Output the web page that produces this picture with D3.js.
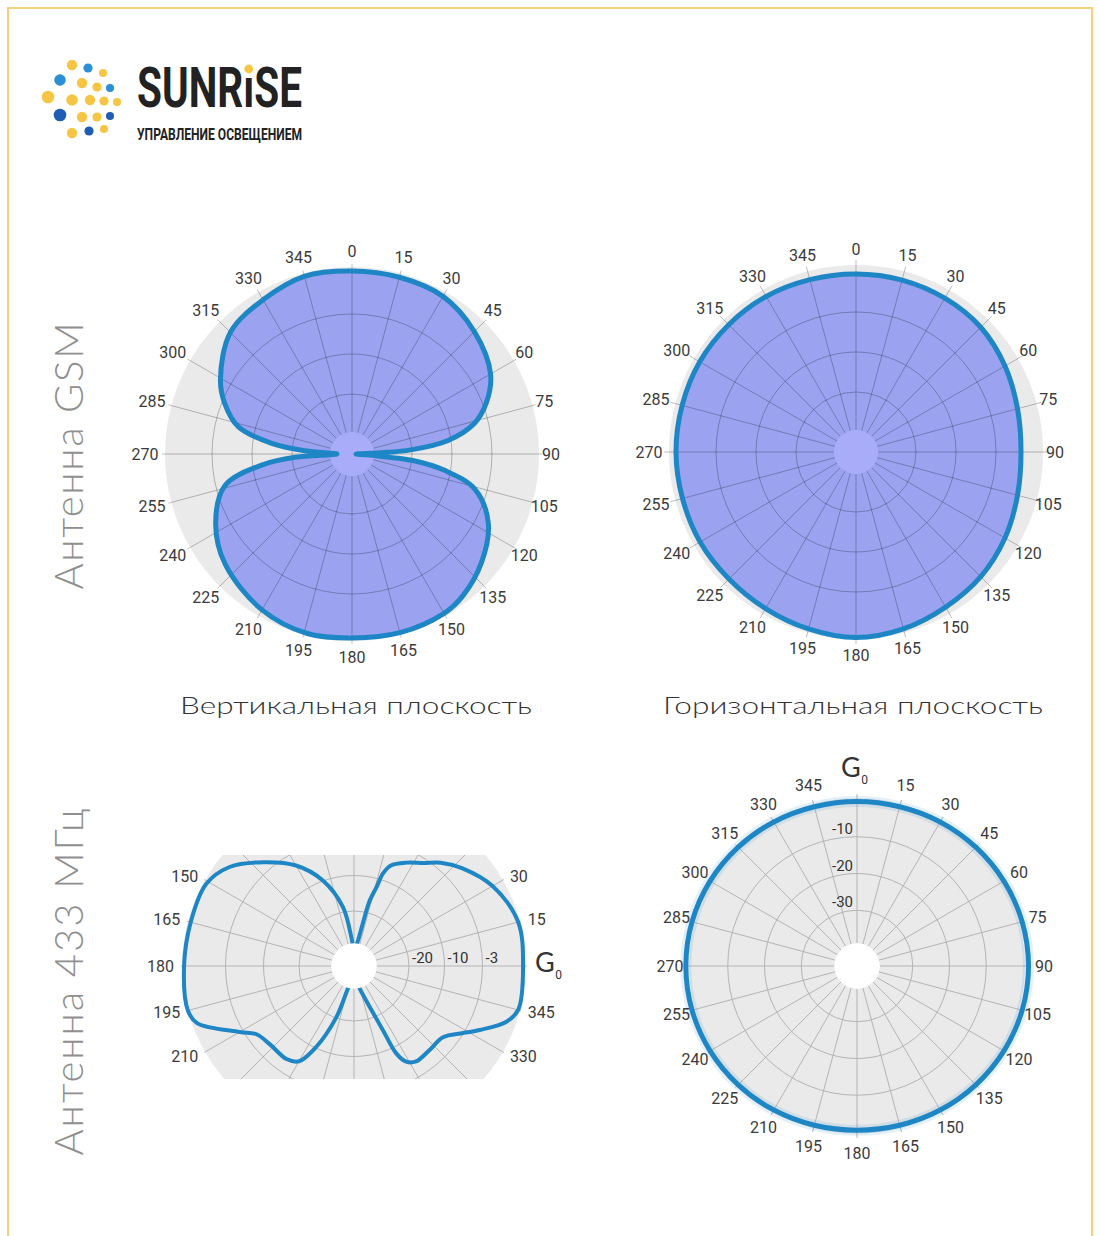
<!DOCTYPE html>
<html><head><meta charset="utf-8">
<script src="https://cdn.jsdelivr.net/npm/d3@7"></script>
<style>body{margin:0;background:#fff}svg{display:block}</style>
</head><body>
<script>
// ---------------- DATA ----------------
const angleTicks = d3.range(0, 360, 15);
// GSM antenna, vertical plane (angle clockwise from top, relative level dB)
const gsmVerticalAngles = [0,15,30,45,60,69,76,82,86,87.5,90,93,95,96,100,106,117,130,142,150,165,180,194,210,229,243,256,263,266.7,268.2,270,271.8,274,277.5,283.5,291.7,299.4,315,330,345];
const gsmVerticalDb = [0.75,0.75,0.5,-1.75,-5,-9,-13.5,-20.75,-30.25,-37.75,-44,-41.25,-36.75,-30,-21.5,-13,-6.75,-2.75,0,1,1.25,1,1.25,0,-3,-6.75,-12.25,-22.25,-30.75,-39.75,-41.25,-39.75,-33.25,-24.75,-15.75,-10.75,-7.25,-2,-0.5,1];
// GSM antenna, horizontal plane
const gsmHorizontalAngles = angleTicks;
const gsmHorizontalDb = [-0.5,-0.5,-0.6,-0.9,-2.0,-3.2,-3.75,-3.2,-2.0,-0.9,-0.2,0.8,1.4,0.8,0.2,-0.1,0,-0.1,0,0,0.1,0,-0.1,-0.4];
// 433 MHz antenna, vertical plane (angle counter-clockwise from right)
const ant433VerticalAngles = [0,15,30,42,50,56,63,70,72.6,74,76.6,78,81,85,90,95.3,100.6,110,120,131,141.5,151,165,180,195,200,210,215,223,234,240,245,251,255,260,270,280,284,291,294.3,295.8,298.6,303,312,321.3,328.4,333,339.8,345];
const ant433VerticalDb = [0.16,0.23,-0.55,-1.64,-2.5,-3.8,-5.3,-7.0,-8.8,-12.2,-16.8,-22.5,-28.9,-31,-32,-28,-18.6,-9.9,-5.3,-2.3,-0.62,0.16,0.16,0.23,0.39,0,-2.73,-4.75,-5.5,-5.5,-6.4,-10.4,-20.3,-29.8,-32,-32,-32,-29.8,-23.4,-15.5,-8.8,-6.6,-5.7,-5.86,-5.67,-3.09,-2.03,-0.39,0.23];
// 433 MHz antenna, horizontal plane (angle clockwise from top)
const ant433HorizontalAngles = angleTicks;
const ant433HorizontalDb = [-0.4,-0.3,0.1,0.55,1.0,1.35,1.5,1.35,1.0,0.55,0.1,-0.3,-0.5,-0.3,0.1,0.55,1.0,1.3,1.4,1.3,1.0,0.55,0.1,-0.3];
const gsmRings = [-30,-20,-10];
const hRings433 = [-30,-20,-10];
const hRingLabels433 = ["-30","-20","-10"];
const vRings433 = [-20,-10,-3];
const vRingLabels433 = ["-20","-10","-3"];
const vLabelAngles433 = [15,30,150,165,180,195,210,330,345];
const planeTitles = ["Вертикальная плоскость","Горизонтальная плоскость"];
const rowTitles = ["Антенна GSM","Антенна 433 МГц"];
const brandName = "SUNRıSE";
const brandSub = "УПРАВЛЕНИЕ ОСВЕЩЕНИЕМ";

// ---------------- DRAW ----------------
const W = 1099, H = 1236;
const svg = d3.select("body").append("svg").attr("width", W).attr("height", H);
const defs = svg.append("defs");
const BLUE = "#1f86c6";
const labelFont = "Roboto, 'Liberation Sans', sans-serif";

svg.append("rect").attr("x", 8).attr("y", 8).attr("width", 1084).attr("height", 1300)
  .attr("fill", "none").attr("stroke", "#f3d27a").attr("stroke-width", 2);

// logo
const logoDots = [[72,65,4.5,0],[88,68,4,1],[103,73,3.5,0],[60,80,5,1],[82,83,4.5,0],[97,87,4,0],[110,88,3.5,1],
  [48,97,5.5,0],[72,100,5,0],[90,100,4.5,0],[104,101,4,0],[117,102,3.5,0],[60,115,5.5,2],[82,117,4.5,0],[97,117,4,0],[110,116,3.5,2],
  [72,133,4.5,0],[89,131,4,2],[104,129,3.5,0]];
const dotColors = ["#f6c544","#2b8fd6","#1f5cb3"];
svg.append("g").selectAll("circle").data(logoDots).join("circle")
  .attr("cx", d => d[0]).attr("cy", d => d[1]).attr("r", d => d[2] * 1.15).attr("fill", d => dotColors[d[3]]);
const brand = svg.append("text").attr("x", 137).attr("y", 107).text(brandName)
  .attr("font-family", "Roboto, sans-serif").attr("font-weight", 700).attr("font-size", 55)
  .attr("fill", "#222").attr("textLength", 165).attr("lengthAdjust", "spacingAndGlyphs");
svg.append("text").attr("x", 137).attr("y", 140).text(brandSub)
  .attr("font-family", "Roboto, sans-serif").attr("font-weight", 700).attr("font-size", 17)
  .attr("fill", "#222").attr("textLength", 165).attr("lengthAdjust", "spacingAndGlyphs");
try {
  const ext = brand.node().getExtentOfChar(4);
  svg.append("circle").attr("cx", ext.x + ext.width / 2).attr("cy", 69).attr("r", 4.4).attr("fill", "#f6c544");
} catch (e) {
  svg.append("circle").attr("cx", 248).attr("cy", 69).attr("r", 4.4).attr("fill", "#f6c544");
}

// row titles
const rowY = [456, 982];
const rowLen = [267, 347];
rowTitles.forEach((t, i) => {
  svg.append("text").attr("transform", `translate(83,${rowY[i]}) rotate(-90)`)
    .attr("text-anchor", "middle").attr("font-family", "Lato, sans-serif").attr("font-weight", 300)
    .attr("font-size", 40).attr("fill", "#8f8f8f").attr("textLength", rowLen[i]).attr("lengthAdjust", "spacing").text(t);
});
// plane titles
const titleX = [356, 853], titleLen = [352, 380];
planeTitles.forEach((t, i) => {
  svg.append("text").attr("x", titleX[i]).attr("y", 714).attr("text-anchor", "middle")
    .attr("font-family", "Lato, sans-serif").attr("font-weight", 300).attr("font-size", 23)
    .attr("fill", "#333").attr("textLength", titleLen[i]).attr("lengthAdjust", "spacingAndGlyphs").text(t);
});

const rad = a => a * Math.PI / 180;
let clipId = 0;
function polar(o) {
  const g = svg.append("g").attr("transform", `translate(${o.cx},${o.cy})`);
  const r = o.scale;
  const toD3 = o.toD3 || (a => a);
  let body = g;
  if (o.clip) {
    const id = "clip" + (clipId++);
    defs.append("clipPath").attr("id", id).append("rect")
      .attr("x", -o.R - 20).attr("y", o.clip[0]).attr("width", 2 * o.R + 40).attr("height", o.clip[1] - o.clip[0]);
    body = g.append("g").attr("clip-path", `url(#${id})`);
  }
  body.append("circle").attr("r", o.R).attr("fill", "#eaeaea");
  const pts = o.angles.map((a, i) => ({ a: toD3(a), v: o.values[i] }));
  const line = d3.lineRadial().angle(d => rad(d.a)).radius(d => r(d.v))
    .curve(d3.curveCatmullRomClosed.alpha(0.5));
  if (o.fill) body.append("path").attr("d", line(pts)).attr("fill", o.fill);
  const grid = body.append("g").attr("fill", "none").attr("stroke", o.gridColor).attr("stroke-width", 1);
  grid.selectAll("circle").data(o.rings).join("circle").attr("r", d => r(d));
  grid.selectAll("line").data(angleTicks).join("line")
    .attr("x1", d => d3.pointRadial(rad(toD3(d)), o.hole)[0]).attr("y1", d => d3.pointRadial(rad(toD3(d)), o.hole)[1])
    .attr("x2", d => d3.pointRadial(rad(toD3(d)), o.spokeR)[0]).attr("y2", d => d3.pointRadial(rad(toD3(d)), o.spokeR)[1]);
  const holeFirst = o.holeUnder;
  if (holeFirst) body.append("circle").attr("r", o.hole).attr("fill", o.holeFill);
  if (o.halo) body.append("path").attr("d", line(pts)).attr("fill", "none").attr("stroke", "rgba(31,134,198,0.12)").attr("stroke-width", 11);
  body.append("path").attr("d", line(pts)).attr("fill", "none").attr("stroke", BLUE)
    .attr("stroke-width", o.sw).attr("stroke-linejoin", "round");
  if (!holeFirst) body.append("circle").attr("r", o.hole).attr("fill", o.holeFill);
  return g;
}
function gLabel(g, x, y) {
  const t = g.append("text").attr("x", x).attr("y", y)
    .attr("font-family", "Lato, sans-serif").attr("font-size", 27).attr("fill", "#333").text("G");
  const bb = t.node().getBBox();
  g.append("text").attr("x", bb.x + bb.width + 0.5).attr("y", y + 7).attr("font-family", labelFont)
    .attr("font-size", 12).attr("fill", "#333").text("0");
}

// top charts
const gsmScale = d3.scaleLinear().domain([-40, 0]).range([20, 180]);
function topLabels(g) {
  g.append("g").selectAll("text").data(angleTicks).join("text")
    .attr("x", d => d3.pointRadial(rad(d), 203)[0] - 4 * Math.abs(Math.sin(rad(d))))
    .attr("y", d => d3.pointRadial(rad(d), 203)[1])
    .attr("text-anchor", "middle").attr("dominant-baseline", "central")
    .attr("font-family", labelFont).attr("font-size", 16).attr("fill", "#3b3b3b").text(d => d);
}
const tl = polar({ cx: 352, cy: 454, R: 187, scale: gsmScale, angles: gsmVerticalAngles, values: gsmVerticalDb,
  rings: gsmRings, hole: 22, spokeR: 190, fill: "#9ba3f0", gridColor: "rgba(0,0,0,0.25)", holeFill: "#a9adf9",
  holeUnder: true, sw: 5 });
topLabels(tl);
const tr = polar({ cx: 856, cy: 452, R: 187, scale: gsmScale, angles: gsmHorizontalAngles, values: gsmHorizontalDb,
  rings: gsmRings, hole: 22, spokeR: 192, fill: "#9ba3f0", gridColor: "rgba(0,0,0,0.25)", holeFill: "#a9adf9",
  holeUnder: true, sw: 5 });
topLabels(tr);

// bottom-left: 433 MHz vertical
const vScale433 = d3.scaleLinear().domain([-30, -20, -10, -3, 0]).range([22.5, 55, 90.5, 128.5, 167]);
const bl = polar({ cx: 354, cy: 966, R: 172, scale: vScale433, angles: ant433VerticalAngles, values: ant433VerticalDb,
  toD3: a => 90 - a, rings: vRings433, hole: 22.7, spokeR: 173, gridColor: "#b4b4b4", holeFill: "#fff",
  holeUnder: false, sw: 4, clip: [-111, 113] });
bl.append("g").selectAll("text").data(vLabelAngles433).join("text")
  .attr("x", d => d3.pointRadial(rad(90 - d), 180)[0]).attr("y", d => d3.pointRadial(rad(90 - d), 180)[1])
  .attr("text-anchor", d => Math.cos(rad(d)) > 0 ? "start" : "end").attr("dominant-baseline", "central")
  .attr("font-family", labelFont).attr("font-size", 16).attr("fill", "#3b3b3b").text(d => d);
bl.append("g").selectAll("text").data(vRings433).join("text")
  .attr("x", d => vScale433(d) + 3).attr("y", -3)
  .attr("font-family", labelFont).attr("font-size", 15).attr("fill", "#333")
  .text((d, i) => vRingLabels433[i]);
gLabel(bl, 181, 6);

// bottom-right: 433 MHz horizontal
const hScale433 = d3.scaleLinear().domain([-40, 0]).range([19, 166]);
const br = polar({ cx: 857, cy: 966, R: 168, scale: hScale433, angles: ant433HorizontalAngles, values: ant433HorizontalDb,
  rings: hRings433, hole: 22.7, spokeR: 172, gridColor: "#b4b4b4", holeFill: "#fff",
  holeUnder: false, sw: 5, halo: true });
br.append("g").selectAll("text").data(angleTicks.filter(d => d !== 0)).join("text")
  .attr("x", d => d3.pointRadial(rad(d), 187)[0]).attr("y", d => d3.pointRadial(rad(d), 187)[1])
  .attr("text-anchor", "middle").attr("dominant-baseline", "central")
  .attr("font-family", labelFont).attr("font-size", 16).attr("fill", "#3b3b3b").text(d => d);
br.append("g").selectAll("text").data(hRings433).join("text")
  .attr("x", -4).attr("y", d => -hScale433(d) - 3).attr("text-anchor", "end")
  .attr("font-family", labelFont).attr("font-size", 15).attr("fill", "#333")
  .text((d, i) => hRingLabels433[i]);
gLabel(br, -16, -189);
</script>
</body></html>
